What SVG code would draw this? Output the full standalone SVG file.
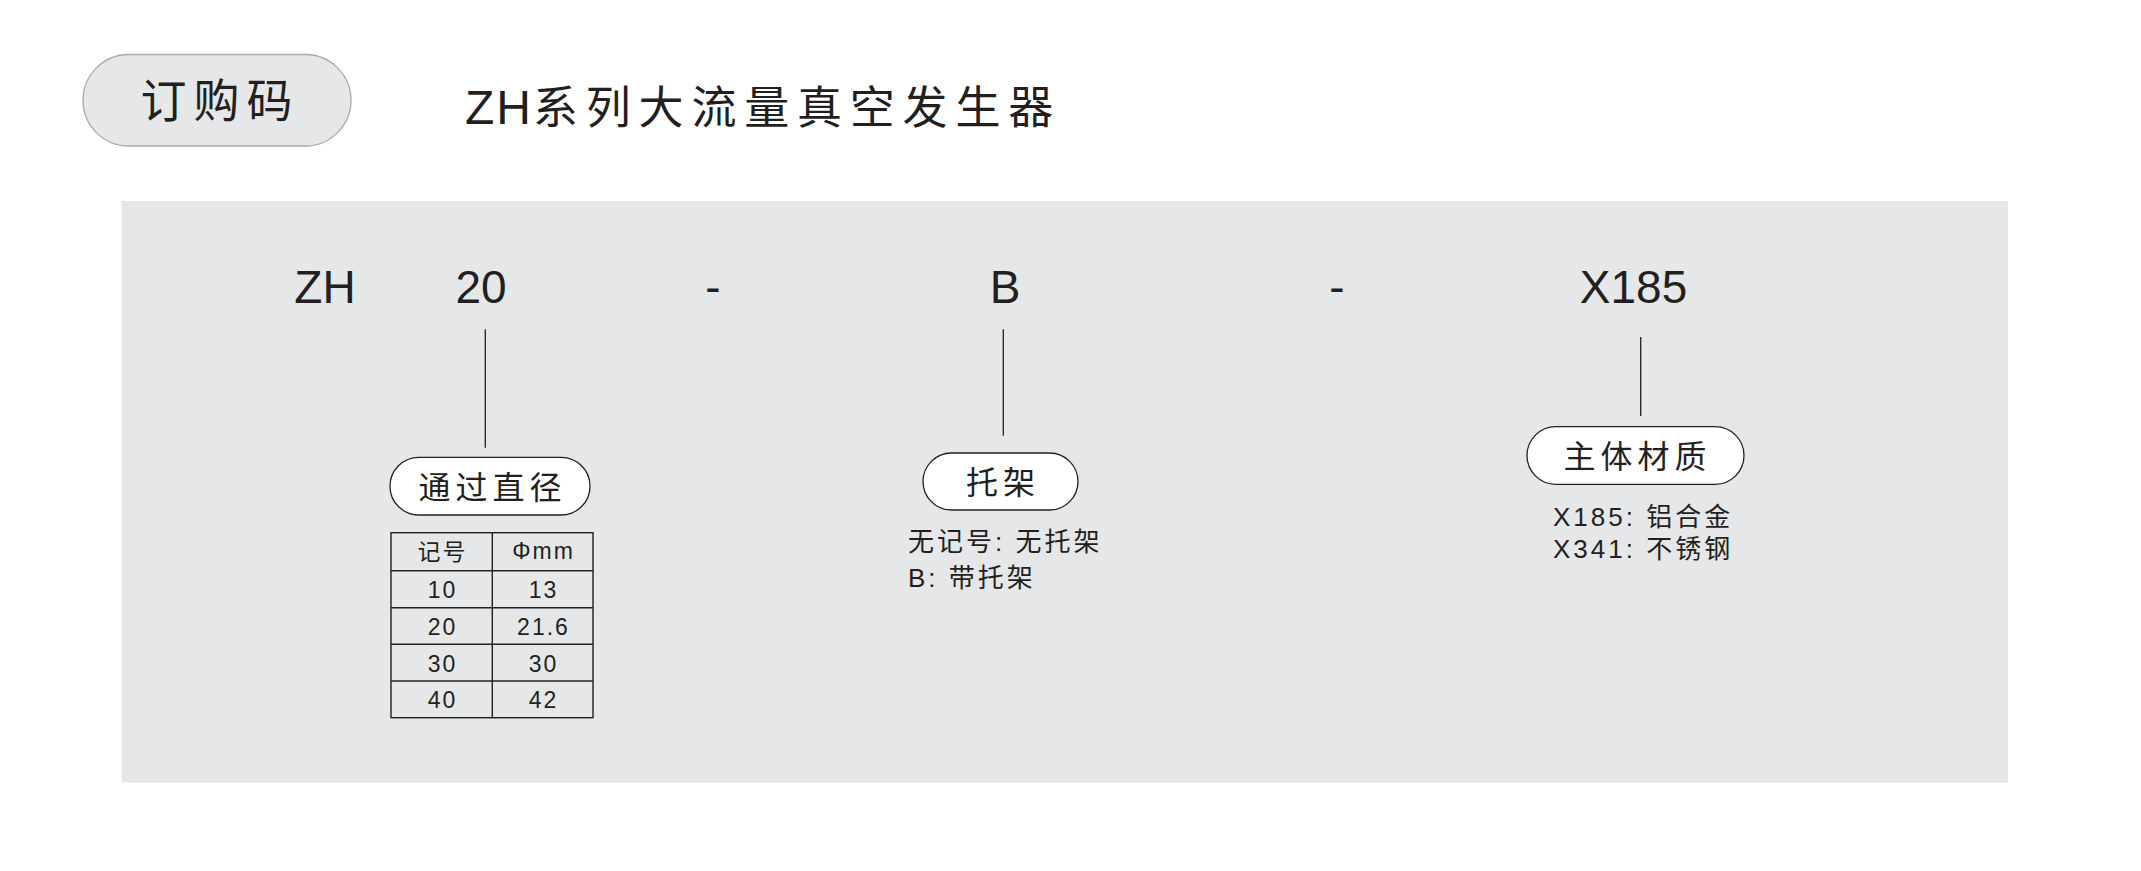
<svg xmlns="http://www.w3.org/2000/svg" width="2141" height="871" viewBox="0 0 2141 871">
<style>
  .lat { font-family: "Liberation Sans", Arial, "Noto Sans CJK SC", sans-serif; fill: #231f20; }
  .cjk { font-family: "Liberation Sans", "Noto Sans CJK SC", sans-serif; fill: #231f20; }
  .code { font-size: 46px; text-anchor: middle; }
  .pill { fill: #ffffff; stroke: #231f20; stroke-width: 1.3; }
  .plabel { font-size: 32px; letter-spacing: 5px; text-anchor: middle; }
  .desc { font-size: 26px; letter-spacing: 3px; }
  .cell { font-size: 23px; letter-spacing: 2px; text-anchor: middle; }
  .conn { stroke: #231f20; stroke-width: 1.3; fill: none; }
  .grid { stroke: #231f20; stroke-width: 1.4; fill: none; }
</style>
<rect x="0" y="0" width="2141" height="871" fill="#ffffff"/>

<g id="header">
  <rect x="83" y="54.5" width="268" height="91.5" rx="45.75" ry="45.75" fill="#e6e7e8" stroke="#a7a9ac" stroke-width="1.3"/>
  <text class="cjk" x="220" y="117" font-size="46" letter-spacing="7" text-anchor="middle">订购码</text>
  <text class="cjk" x="465" y="124" font-size="45" letter-spacing="7.8"><tspan font-size="48" letter-spacing="2">ZH</tspan>系列大流量真空发生器</text>
</g>

<rect id="panel" x="121.5" y="201" width="1886.5" height="581.5" fill="#e6e7e8"/>

<g id="code-row">
  <text class="lat code" x="325" y="302.5">ZH</text>
  <text class="lat code" x="481" y="302.5">20</text>
  <text class="lat code" x="713" y="302.5">-</text>
  <text class="lat code" x="1005" y="302.5">B</text>
  <text class="lat code" x="1337" y="302.5">-</text>
  <text class="lat code" x="1633.5" y="302.5">X185</text>
</g>

<g id="connectors">
  <line class="conn" x1="485.3" y1="329.3" x2="485.3" y2="447.7"/>
  <line class="conn" x1="1003.3" y1="329.3" x2="1003.3" y2="435.7"/>
  <line class="conn" x1="1640.7" y1="337" x2="1640.7" y2="416"/>
</g>

<g id="node-diameter">
  <rect class="pill" x="390" y="457.3" width="200" height="57.7" rx="28.85" ry="28.85"/>
  <text class="cjk plabel" x="492.5" y="499">通过直径</text>
  <g id="table">
    <rect class="grid" x="391" y="532.7" width="202" height="185"/>
    <line class="grid" x1="492.3" y1="532.7" x2="492.3" y2="717.7"/>
    <line class="grid" x1="391" y1="570.7" x2="593" y2="570.7"/>
    <line class="grid" x1="391" y1="607.7" x2="593" y2="607.7"/>
    <line class="grid" x1="391" y1="644.3" x2="593" y2="644.3"/>
    <line class="grid" x1="391" y1="681" x2="593" y2="681"/>
    <text class="cjk cell" x="442.5" y="560" font-size="22">记号</text>
    <text class="lat cell" x="543.5" y="559">Φmm</text>
    <text class="lat cell" x="442.5" y="598.3">10</text>
    <text class="lat cell" x="543.5" y="598.3">13</text>
    <text class="lat cell" x="442.5" y="635">20</text>
    <text class="lat cell" x="543.5" y="635">21.6</text>
    <text class="lat cell" x="442.5" y="671.7">30</text>
    <text class="lat cell" x="543.5" y="671.7">30</text>
    <text class="lat cell" x="442.5" y="708.3">40</text>
    <text class="lat cell" x="543.5" y="708.3">42</text>
  </g>
</g>

<g id="node-bracket">
  <rect class="pill" x="923" y="453" width="155" height="57" rx="28.5" ry="28.5"/>
  <text class="cjk plabel" x="1003" y="494">托架</text>
  <text class="cjk desc" x="908" y="551">无记号: 无托架</text>
  <text class="cjk desc" x="908" y="587">B: 带托架</text>
</g>

<g id="node-material">
  <rect class="pill" x="1527" y="426.7" width="217" height="57.6" rx="28.8" ry="28.8"/>
  <text class="cjk plabel" x="1637.5" y="468">主体材质</text>
  <text class="cjk desc" x="1553" y="526">X185: 铝合金</text>
  <text class="cjk desc" x="1553" y="558">X341: 不锈钢</text>
</g>
</svg>
